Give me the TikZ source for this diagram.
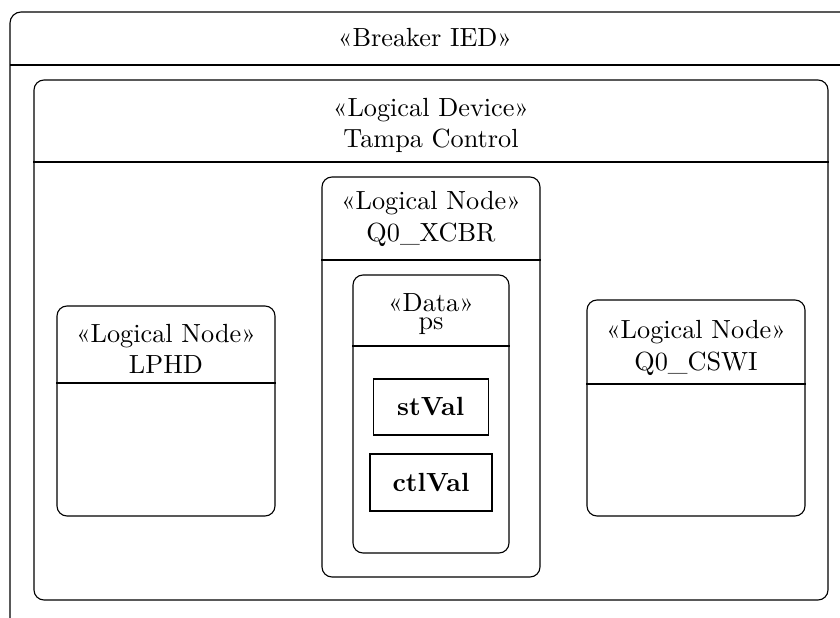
\documentclass[tikz,border=0pt]{standalone}
\usepackage{fontspec}
\begin{document}
\begin{tikzpicture}[x=0.4pt,y=-0.4pt,line width=0.45pt,
  font=\fontsize{10.5pt}{12.6pt}\selectfont,
  umlbox/.style={draw, rounded corners=4pt, inner sep=0pt},
  valbox/.style={draw, inner sep=0pt, font=\fontsize{10.5pt}{12.6pt}\selectfont\bfseries},
  lbl/.style={inner sep=0pt, anchor=base}]
\useasboundingbox (0,0) rectangle (840,618);
% outer IED box (open at right and bottom)
\coordinate (iedTR) at (840,12);
\coordinate (iedTL) at (10,12);
\coordinate (iedBL) at (10,618);
\draw[rounded corners=4.4pt] (iedTR) -- (iedTL) -- (iedBL);
\draw (10,65) -- (840,65);
\node[lbl] (ied) at (425,47) {«Breaker IED»};
% logical device
\node[umlbox, minimum width=317.6pt, minimum height=208pt] (dev) at (431,340) {};
\draw (dev.west |- 0,162) -- (dev.east |- 0,162);
\node[lbl] (devst) at (431,116.7) {«Logical Device»};
\node[lbl] (devname) at (431,147.7) {Tampa Control};
% LPHD
\node[umlbox, minimum width=87.2pt, minimum height=84pt] (lphd) at (166,411) {};
\draw (lphd.west |- 0,383) -- (lphd.east |- 0,383);
\node[lbl] (lphdst) at (166,342.7) {«Logical Node»};
\node[lbl] (lphdname) at (166,374) {LPHD};
% Q0_CSWI
\node[umlbox, minimum width=87.2pt, minimum height=86.4pt] (cswi) at (696,408) {};
\draw (cswi.west |- 0,384) -- (cswi.east |- 0,384);
\node[lbl] (cswist) at (696,339) {«Logical Node»};
\node[lbl] (cswiname) at (696,370.5) {Q0\_CSWI};
% Q0_XCBR
\node[umlbox, minimum width=87.2pt, minimum height=160pt] (xcbr) at (431,377) {};
\draw (xcbr.west |- 0,260) -- (xcbr.east |- 0,260);
\node[lbl] (xcbrst) at (431,210) {«Logical Node»};
\node[lbl] (xcbrname) at (431,241.7) {Q0\_XCBR};
% Data ps
\node[umlbox, minimum width=62.4pt, minimum height=111.2pt] (data) at (431,414) {};
\draw (data.west |- 0,346) -- (data.east |- 0,346);
\node[lbl] (datast) at (431,311.7) {«Data»};
\node[lbl] (dataname) at (431,329.5) {ps};
% values
\node[valbox, minimum width=46pt, minimum height=22.4pt] (stval) at (430.7,407) {stVal};
\node[valbox, minimum width=48.8pt, minimum height=22.8pt] (ctlval) at (431,482.5) {ctlVal};
\end{tikzpicture}
\end{document}
